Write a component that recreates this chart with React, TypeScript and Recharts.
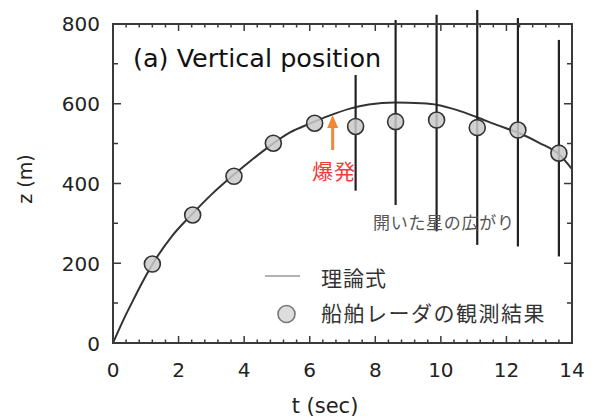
import React from 'react';
import { ComposedChart, Line, Scatter, XAxis, YAxis, ReferenceDot, Legend } from 'recharts';

// Theoretical curve (理論式)
const curveT = [0, 0.3, 0.6, 0.9, 1.2, 1.8, 2.4, 3.0, 3.6, 4.2, 4.8, 5.4, 6.0, 6.6, 7.2, 7.8, 8.6, 9.4, 9.9, 10.5, 11.1, 11.7, 12.4, 13.0, 13.6, 14];
const curveZ = [0, 55, 105, 153, 197, 268, 322, 372, 416, 457, 495, 528, 550, 570, 587, 598, 603, 601, 597, 584, 566, 547, 526, 502, 473, 436];

// Ship radar observations (船舶レーダの観測結果)
const obsT = [1.2, 2.43, 3.69, 4.89, 6.15, 7.4, 8.62, 9.87, 11.11, 12.35, 13.6];
const obsZ = [198, 321, 418, 501, 551, 543, 555, 559, 540, 534, 476];

// Spread of the opened star (開いた星の広がり)
const spreadT = [7.4, 8.62, 9.87, 11.11, 12.35, 13.6];
const spreadLow = [382, 346, 280, 246, 242, 217];
const spreadHigh = [672, 810, 823, 835, 815, 760];

// Explosion marker (爆発)
const burstT = 6.7;
const burstFrom = 484;
const burstTo = 572;

// Axes
const xMin = 0;
const xMax = 14;
const yMin = 0;
const yMax = 800;
const yRoom = 840;
const xTicks = [0, 0.4, 0.8, 1.2, 1.6, 2, 2.4, 2.8, 3.2, 3.6, 4, 4.4, 4.8, 5.2, 5.6, 6, 6.4, 6.8, 7.2, 7.6, 8, 8.4, 8.8, 9.2, 9.6, 10, 10.4, 10.8, 11.2, 11.6, 12, 12.4, 12.8, 13.2, 13.6, 14];
const yTicks = [0, 100, 200, 300, 400, 500, 600, 700, 800];

const curveData = curveT.map((t, i) => ({ t, z: curveZ[i] }));
const obsData = obsT.map((t, i) => ({ t, z: obsZ[i] }));
const spreadData = spreadT.map((t, i) => [
  { t, z: spreadLow[i] },
  { t, z: spreadHigh[i] },
]);
const burstData = [
  { t: burstT, z: burstFrom },
  { t: burstT, z: burstTo - 25 },
];
const frameData = [
  { t: xMin, z: yMin },
  { t: xMin, z: yMax },
  { t: xMax, z: yMax },
  { t: xMax, z: yMin },
  { t: xMin, z: yMin },
];

const W = 594;
const H = 419;
const M = { top: 8, right: 22, bottom: 0, left: 0 };
const Y_AXIS_W = 113;
const X_AXIS_H = 76;
const plotL = M.left + Y_AXIS_W;
const plotR = W - M.right;
const plotT = M.top;
const plotB = H - M.bottom - X_AXIS_H;
const sx = (t: number) => plotL + ((t - xMin) / (xMax - xMin)) * (plotR - plotL);
const sy = (z: number) => plotB - ((z - yMin) / (yRoom - yMin)) * (plotB - plotT);

const AXIS = '#3a3a3a';
const NUM_FONT = '"DejaVu Sans", sans-serif';
const JP_FONT = '"Noto Sans CJK JP", sans-serif';

const isMult = (v: number, m: number) => Math.abs(v / m - Math.round(v / m)) < 1e-6;

const BottomTick = (props: any) => {
  const { x, y, payload } = props;
  const v = payload.value;
  if (!isMult(v, 2)) return <g />;
  return (
    <text x={x} y={y + 34} textAnchor="middle" fontSize={20} fontFamily={NUM_FONT} fill="#222">
      {v}
    </text>
  );
};

const LeftTick = (props: any) => {
  const { x, y, payload } = props;
  const v = payload.value;
  if (!isMult(v, 200)) return <g />;
  return (
    <text x={x - 13} y={y + 7.5} textAnchor="end" fontSize={20} fontFamily={NUM_FONT} fill="#222">
      {v}
    </text>
  );
};

const Dot = (props: any) => {
  const { cx, cy } = props;
  return <circle cx={cx} cy={cy} r={8} fill="#c9c9c9" fillOpacity={0.85} stroke="#333" strokeWidth={1.6} />;
};

const ArrowHead = (props: any) => {
  const { cx, cy } = props;
  return <polygon points={`${cx},${cy} ${cx - 5.5},${cy + 13} ${cx + 5.5},${cy + 13}`} fill="#f0883a" />;
};

const LegendContent = () => (
  <svg width={300} height={70} style={{ display: 'block', overflow: 'visible' }}>
    <line x1={3} x2={38} y1={14} y2={14} stroke="#999" strokeWidth={1.5} />
    <text x={59} y={24} fontSize={21} letterSpacing={1} fontFamily={JP_FONT} fill="#333">理論式</text>
    <circle cx={24.5} cy={52} r={8.5} fill="#dddddd" stroke="#777" strokeWidth={1.6} />
    <text x={59} y={59} fontSize={21} letterSpacing={1.5} fontFamily={JP_FONT} fill="#333">船舶レーダの観測結果</text>
  </svg>
);

const tickPath = () => {
  const x0 = sx(xMin);
  const x1 = sx(xMax);
  const y0 = sy(yMin);
  const y1 = sy(yMax);
  let d = '';
  xTicks.forEach((t) => {
    const len = isMult(t, 2) ? 7 : 3.5;
    const x = sx(t);
    d += `M${x},${y0}V${y0 - len}M${x},${y1}V${y1 + len}`;
  });
  yTicks.forEach((z) => {
    const len = isMult(z, 200) ? 8 : 5;
    const y = sy(z);
    d += `M${x0},${y}H${x0 + len}M${x1},${y}H${x1 - len}`;
  });
  return d;
};

export default function App() {
  return (
    <div style={{ position: 'absolute', left: 0, top: 0, width: W, height: H }}>
      <ComposedChart width={W} height={H} margin={M}>
        <XAxis
          type="number"
          xAxisId={0}
          dataKey="t"
          domain={[xMin, xMax]}
          ticks={xTicks}
          interval={0}
          tickSize={0}
          tickMargin={0}
          tickLine={false}
          axisLine={false}
          tick={<BottomTick />}
          height={X_AXIS_H}
        />
        <YAxis
          type="number"
          yAxisId={0}
          dataKey="z"
          domain={[yMin, yRoom]}
          ticks={yTicks}
          interval={0}
          tickSize={0}
          tickMargin={0}
          tickLine={false}
          axisLine={false}
          tick={<LeftTick />}
          width={Y_AXIS_W}
        />
        <Line
          data={frameData}
          dataKey="z"
          xAxisId={0}
          yAxisId={0}
          type="linear"
          stroke={AXIS}
          strokeWidth={2}
          dot={false}
          activeDot={false}
          legendType="none"
          isAnimationActive={false}
        />
        <Scatter data={obsData} dataKey="z" xAxisId={0} yAxisId={0} shape={<Dot />} isAnimationActive={false} />
        <Line
          data={curveData}
          dataKey="z"
          xAxisId={0}
          yAxisId={0}
          type="monotone"
          stroke="#333"
          strokeWidth={2}
          dot={false}
          activeDot={false}
          isAnimationActive={false}
        />
        {spreadData.map((d, i) => (
          <Line
            key={'s' + i}
            data={d}
            dataKey="z"
            xAxisId={0}
            yAxisId={0}
            type="linear"
            stroke="#222"
            strokeWidth={2.2}
            dot={false}
            activeDot={false}
            legendType="none"
            isAnimationActive={false}
          />
        ))}
        <Line
          data={burstData}
          dataKey="z"
          xAxisId={0}
          yAxisId={0}
          type="linear"
          stroke="#f0883a"
          strokeWidth={3}
          dot={false}
          activeDot={false}
          legendType="none"
          isAnimationActive={false}
        />
        <ReferenceDot xAxisId={0} yAxisId={0} x={burstT} y={burstTo} ifOverflow="visible" shape={<ArrowHead />} />
        <Legend
          layout="horizontal"
          verticalAlign="middle"
          align="center"
          content={<LegendContent />}
          wrapperStyle={{ position: 'absolute', left: 262, top: 262, width: 300, height: 70 }}
        />
      </ComposedChart>
      <svg width={W} height={H} style={{ position: 'absolute', left: 0, top: 0, pointerEvents: 'none' }}>
        <path d={tickPath()} stroke={AXIS} strokeWidth={1.5} fill="none" />
        <path
          d={`M${sx(xMin)},${sy(yMin)}V${sy(yMax)}H${sx(xMax)}V${sy(yMin)}Z`}
          stroke={AXIS}
          strokeWidth={2}
          fill="none"
        />
        <text x={133} y={67} fontSize={25.5} fontFamily={NUM_FONT} fill="#111">(a) Vertical position</text>
        <text
          x={25}
          y={179}
          transform="rotate(-90 25 179)"
          textAnchor="middle"
          dominantBaseline="central"
          fontSize={19}
          fontFamily={NUM_FONT}
          fill="#222"
        >
          z (m)
        </text>
        <text x={325} y={413} textAnchor="middle" fontSize={21} fontFamily={NUM_FONT} fill="#222">t (sec)</text>
        <text x={334} y={179} textAnchor="middle" fontSize={21} letterSpacing={1} fontFamily={JP_FONT} fill="#f03c3c">爆発</text>
        <text x={373} y={229} fontSize={17} letterSpacing={0.7} fontFamily={JP_FONT} fill="#555">開いた星の広がり</text>
      </svg>
    </div>
  );
}
